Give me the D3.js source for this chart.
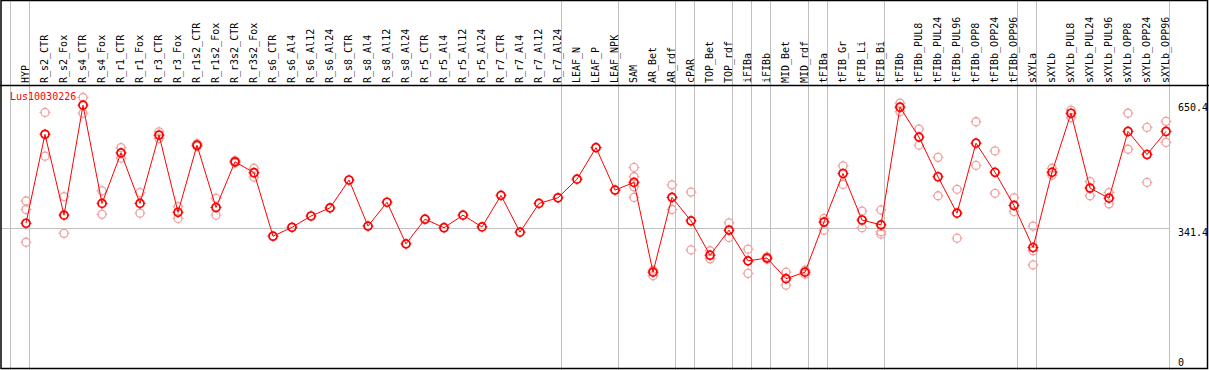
<!DOCTYPE html>
<html>
<head>
  <meta charset="UTF-8">
  <title>Lus10030226</title>
  <script src="https://d3js.org/d3.v7.min.js"></script>
  <style>
    body { margin: 0; background: #fff; }
    text { font-family: "DejaVu Sans Mono", monospace; font-size: 10px; }
  </style>
</head>
<body>
  <div id="chart"></div>

  <script>
    const geneName = "Lus10030226";

    const categories = [
      "HYP", "R_s2_CTR", "R_s2_Fox", "R_s4_CTR", "R_s4_Fox", "R_r1_CTR", "R_r1_Fox", "R_r3_CTR", "R_r3_Fox",
      "R_r1s2_CTR", "R_r1s2_Fox", "R_r3s2_CTR", "R_r3s2_Fox", "R_s6_CTR", "R_s6_Al4", "R_s6_Al12", "R_s6_Al24",
      "R_s8_CTR", "R_s8_Al4", "R_s8_Al12", "R_s8_Al24", "R_r5_CTR", "R_r5_Al4", "R_r5_Al12", "R_r5_Al24",
      "R_r7_CTR", "R_r7_Al4", "R_r7_Al12", "R_r7_Al24", "LEAF_N", "LEAF_P", "LEAF_NPK", "SAM", "AR_Bet", "AR_rdf",
      "cPAR", "TOP_Bet", "TOP_rdf", "iFIBa", "iFIBb", "MID_Bet", "MID_rdf", "tFIBa", "tFIB_Gr", "tFIB_Li", "tFIB_Bi",
      "tFIBb", "tFIBb_PUL8", "tFIBb_PUL24", "tFIBb_PUL96", "tFIBb_OPP8", "tFIBb_OPP24", "tFIBb_OPP96",
      "sXYLa", "sXYLb", "sXYLb_PUL8", "sXYLb_PUL24", "sXYLb_PUL96", "sXYLb_OPP8", "sXYLb_OPP24", "sXYLb_OPP96"
    ];

    // number of samples in each tissue group (gray separators between groups)
    const groupSizes = [1, 28, 3, 3, 1, 2, 1, 1, 2, 1, 3, 7, 1, 7];

    const means = [
      353, 573, 373, 645, 402, 527, 402, 571, 380,
      546, 392, 505, 478, 321, 343, 371, 391,
      460, 346, 405, 302, 363, 342, 373, 344,
      422, 331, 402, 416, 462, 540, 435, 454, 232, 417,
      359, 274, 336, 260, 267, 216, 232, 356, 476, 361, 349,
      640, 566, 468, 378, 551, 479, 397,
      293, 479, 625, 440, 415, 580, 523, 580
    ];

    const replicates = [
      [408, 387, 306], [627, 519], [419, 328], [664, 625], [433, 375], [540, 514], [429, 378], [579, 563], [394, 365],
      [550, 543], [415, 373], [508, 502], [489, 467], [], [], [], [],
      [], [], [], [], [], [], [], [],
      [], [], [], [], [], [], [], [491, 468, 443, 417], [237, 223], [448, 387],
      [430, 287], [285, 265], [354, 318], [289, 229], [270, 264], [232, 200], [237, 227], [365, 336], [495, 449], [383, 342], [386, 332, 326],
      [650, 629], [586, 546], [516, 421], [437, 316], [604, 496], [532, 427], [416, 382],
      [346, 285, 250], [489, 472], [633, 614], [456, 421], [429, 401], [625, 536], [590, 454], [605, 553]
    ];

    const yTicks = [0, 341.4, 650.4];

    const W = 1209, H = 370;
    const headerH = 85;
    const plotLeft = 11, plotRight = 1170;

    const svg = d3.select("#chart").append("svg")
      .attr("width", W)
      .attr("height", H);

    svg.append("rect").attr("width", W).attr("height", H).attr("fill", "#fff");

    const x = d3.scaleBand()
      .domain(categories)
      .range([plotLeft, plotRight])
      .paddingInner(0).paddingOuter(0);

    const y = d3.scaleLinear()
      .domain([0, 650.4])
      .range([366, 103]);

    const px = c => x(c) + 15;

    // horizontal grid line at the middle tick
    svg.append("line")
      .attr("x1", 1).attr("x2", plotRight)
      .attr("y1", Math.round(y(341.4)) + 0.5).attr("y2", Math.round(y(341.4)) + 0.5)
      .attr("stroke", "#c0c0c0");

    // group separators
    let acc = 0;
    const bounds = [0];
    groupSizes.forEach(n => { acc += n; bounds.push(acc); });
    svg.selectAll(".sep")
      .data(bounds)
      .enter().append("line")
      .attr("class", "sep")
      .attr("x1", i => Math.round(i < categories.length ? x(categories[i]) : x.range()[1]) - 0.5)
      .attr("x2", i => Math.round(i < categories.length ? x(categories[i]) : x.range()[1]) - 0.5)
      .attr("y1", 0).attr("y2", H)
      .attr("stroke", "#c0c0c0");

    // header separator and frame
    svg.append("line")
      .attr("x1", 0).attr("x2", W)
      .attr("y1", headerH + 0.5).attr("y2", headerH + 0.5)
      .attr("stroke", "#000").attr("stroke-width", 1.5);
    svg.append("rect")
      .attr("x", 1).attr("y", 0.5)
      .attr("width", 1206.5).attr("height", 368)
      .attr("fill", "none").attr("stroke", "#000").attr("stroke-width", 1.5);

    // rotated sample labels
    svg.selectAll(".lab")
      .data(categories)
      .enter().append("text")
      .attr("class", "lab")
      .attr("transform", d => `translate(${x(d) + 17.5},83) rotate(-90)`)
      .attr("fill", "#000")
      .text(d => d);

    // right axis values
    svg.selectAll(".tick")
      .data(yTicks)
      .enter().append("text")
      .attr("class", "tick")
      .attr("x", 1178)
      .attr("y", d => d === 0 ? y(d) : y(d) + 1)
      .attr("dominant-baseline", d => d === 0 ? "auto" : "hanging")
      .attr("fill", "#000")
      .text(d => d);

    // replicate samples
    const reps = [];
    replicates.forEach((arr, i) => arr.forEach(v => reps.push({ c: categories[i], v })));

    function marker(sel, color, sw) {
      sel.append("circle")
        .attr("r", 4)
        .attr("fill", "none")
        .attr("stroke", color)
        .attr("stroke-width", sw);
      sel.append("path")
        .attr("d", "M0,-5.5V-3.5M0,3.5V5.5M-5.5,0H-3.5M3.5,0H5.5")
        .attr("stroke", color)
        .attr("stroke-width", 1);
    }

    svg.selectAll(".rep")
      .data(reps)
      .enter().append("g")
      .attr("class", "rep")
      .attr("transform", d => `translate(${px(d.c)},${y(d.v)})`)
      .call(marker, "#f0a0a0", 1.3);

    // mean expression line
    const data = categories.map((c, i) => ({ c, v: means[i] }));
    svg.append("path")
      .datum(data)
      .attr("fill", "none")
      .attr("stroke", "#ff0000")
      .attr("stroke-width", 1)
      .attr("d", d3.line().x(d => px(d.c)).y(d => y(d.v)));

    svg.selectAll(".mean")
      .data(data)
      .enter().append("g")
      .attr("class", "mean")
      .attr("transform", d => `translate(${px(d.c)},${y(d.v)})`)
      .call(marker, "#ff0000", 1.7);

    svg.append("text")
      .attr("x", 10)
      .attr("y", 100)
      .attr("fill", "#ff0000")
      .text(geneName);
  </script>
</body>
</html>
